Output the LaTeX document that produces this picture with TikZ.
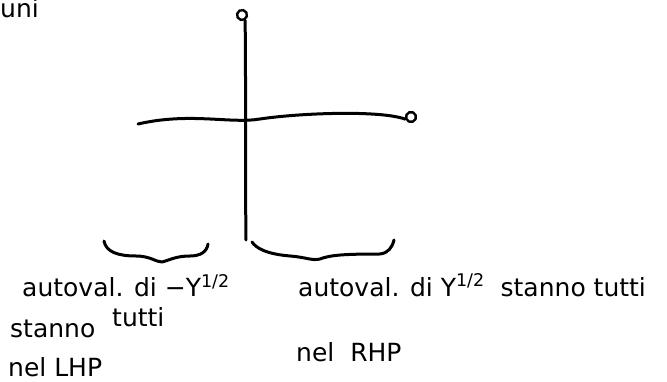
\documentclass[tikz,border=0pt]{standalone}
\usepackage{fontspec}
\setmainfont{DejaVu Sans}
\begin{document}
\begin{tikzpicture}[x=1pt,y=-1pt,
  stroke/.style={line width=3pt,line cap=round,line join=round},
  endring/.style={circle,draw,line width=2.4pt,inner sep=0pt,minimum width=8pt,minimum height=10pt},
  hand/.style={anchor=base west,inner sep=0pt,font=\fontsize{25}{30}\selectfont}]
\useasboundingbox (0,0) rectangle (667,382);
% axes
\node[endring,rotate=30] (top) at (242,15) {};
\node[endring,rotate=20] (right) at (411,117) {};
\coordinate (bot) at (246,240);
\coordinate (left) at (138,124);
\draw[stroke] (top.south) .. controls (246,80) and (245,160) .. (bot);
\draw[stroke] (left) .. controls (190,112) and (230,124) .. (260,119)
  .. controls (300,113) and (380,110) .. (right.west);
% braces
\coordinate (lb1) at (104,241);
\coordinate (lb2) at (208,244);
\draw[stroke] (lb1) .. controls (106,252) and (118,256) .. (136,256)
  .. controls (150,256) and (156,262) .. (162,262)
  .. controls (170,260) and (176,256) .. (190,256)
  .. controls (200,256) and (207,252) .. (lb2);
\coordinate (rb1) at (252,242);
\coordinate (rb2) at (394,240);
\draw[stroke] (rb1) .. controls (256,248) and (266,254) .. (290,256)
  .. controls (305,257) and (312,261) .. (320,259)
  .. controls (330,255) and (345,254) .. (380,254)
  .. controls (388,253) and (392,248) .. (rb2);
% texts
\node[hand] (uni) at (0,18) {uni};
\node[hand] (l1) at (22,297) {autoval. di −Y\textsuperscript{1/2}};
\node[hand] (l2) at (10,337) {stanno};
\node[hand] (l2b) at (112,326) {tutti};
\node[hand] (l3) at (8,376) {nel LHP};
\node[hand] (r1) at (298,296) {autoval. di Y\textsuperscript{1/2}\ \ stanno tutti};
\node[hand] (r2) at (296,361) {nel\ \ RHP};
\end{tikzpicture}
\end{document}
